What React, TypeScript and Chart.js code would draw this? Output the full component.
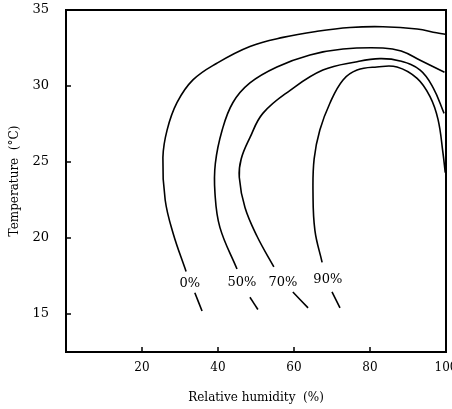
import React, { useEffect, useRef } from "react";
import { Chart, registerables } from "chart.js";

Chart.register(...registerables);

// Relative humidity (%) / temperature (°C) curves
const curve0X = [31.6, 28.2, 26.1, 25.5, 26.6, 29.2, 33.4, 39.7, 48.4, 57.1, 66.1, 74.7, 83.4, 92.4, 97.5, 99.8];
const curve0Y = [17.8, 20.3, 22.5, 25.3, 27.1, 28.9, 30.4, 31.5, 32.6, 33.2, 33.6, 33.85, 33.9, 33.75, 33.5, 33.4];
const curve50X = [45.0, 40.5, 39.2, 39.3, 41.1, 43.9, 48.4, 55.5, 64.2, 72.9, 83.4, 88.2, 93.2, 99.6];
const curve50Y = [17.96, 20.7, 22.96, 24.9, 27.1, 28.9, 30.2, 31.25, 32.04, 32.43, 32.5, 32.3, 31.7, 30.9];
const curve70X = [54.7, 50.3, 47.1, 45.6, 46.1, 48.4, 51.8, 58.9, 67.6, 76.6, 82.6, 87.9, 93.2, 96.6, 99.5];
const curve70Y = [18.1, 20.1, 22.0, 24.0, 25.2, 26.6, 28.2, 29.7, 31.05, 31.6, 31.8, 31.65, 31.05, 29.9, 28.2];
const curve90X = [67.4, 65.5, 65.0, 65.3, 66.8, 69.5, 72.9, 76.6, 81.8, 87.1, 92.4, 95.8, 97.9, 99.2, 99.8];
const curve90Y = [18.4, 20.5, 23.0, 25.2, 27.1, 28.9, 30.4, 31.05, 31.25, 31.25, 30.5, 29.3, 27.8, 25.6, 24.3];

// short leader segments below the labels
const tail0X = [33.9, 35.8];
const tail0Y = [16.4, 15.2];
const tail50X = [48.4, 50.5];
const tail50Y = [16.1, 15.3];
const tail70X = [59.7, 63.7];
const tail70Y = [16.45, 15.4];
const tail90X = [70.0, 72.1];
const tail90Y = [16.45, 15.4];

const curveLabels = ["0%", "50%", "70%", "90%"];
const curveLabelX = [32.6, 46.3, 57.1, 68.9];
const curveLabelY = [17.0, 17.05, 17.05, 17.25];

const xTicks = [20, 40, 60, 80, 100];
const yTicks = [15, 20, 25, 30, 35];

const pts = (xs: number[], ys: number[]) => xs.map((x, i) => ({ x, y: ys[i] }));

const framePlugin = {
  id: "frameAndLabels",
  afterDatasetsDraw(chart: any) {
    const { ctx, chartArea, scales } = chart;
    const xs = scales.x;
    const ys = scales.y;
    ctx.save();
    ctx.strokeStyle = "#000";
    ctx.lineWidth = 2;
    ctx.strokeRect(chartArea.left, chartArea.top, chartArea.right - chartArea.left, chartArea.bottom - chartArea.top);
    ctx.lineWidth = 1.5;
    ctx.beginPath();
    for (const v of yTicks) {
      if (v >= 35) continue;
      const py = ys.getPixelForValue(v);
      ctx.moveTo(chartArea.left, py);
      ctx.lineTo(chartArea.left + 5, py);
    }
    for (const v of xTicks) {
      if (v >= 100) continue;
      const px = xs.getPixelForValue(v);
      ctx.moveTo(px, chartArea.bottom);
      ctx.lineTo(px, chartArea.bottom - 5);
    }
    ctx.stroke();
    ctx.fillStyle = "#000";
    ctx.font = "13px 'DejaVu Serif'";
    ctx.textAlign = "center";
    ctx.textBaseline = "middle";
    curveLabels.forEach((t, i) => {
      ctx.fillText(t, xs.getPixelForValue(curveLabelX[i]), ys.getPixelForValue(curveLabelY[i]));
    });
    ctx.restore();
  },
};

export default function App() {
  const ref = useRef<HTMLCanvasElement | null>(null);
  useEffect(() => {
    document.body.style.margin = "0";
    document.body.style.overflow = "hidden";
    document.documentElement.style.overflow = "hidden";
    const lineDs = (data: any[]) => ({
      data,
      borderColor: "#000",
      borderWidth: 1.6,
      pointRadius: 0,
      tension: 0.4,
      fill: false,
    });
    const chart = new Chart(ref.current as HTMLCanvasElement, {
      type: "line",
      data: {
        datasets: [
          lineDs(pts(curve0X, curve0Y)),
          lineDs(pts(curve50X, curve50Y)),
          lineDs(pts(curve70X, curve70Y)),
          lineDs(pts(curve90X, curve90Y)),
          lineDs(pts(tail0X, tail0Y)),
          lineDs(pts(tail50X, tail50Y)),
          lineDs(pts(tail70X, tail70Y)),
          lineDs(pts(tail90X, tail90Y)),
        ],
      },
      options: {
        animation: false,
        responsive: false,
        layout: { padding: { top: 10, right: 34, left: 0, bottom: 0 } },
        plugins: { legend: { display: false }, tooltip: { enabled: false } },
        scales: {
          x: {
            type: "linear",
            min: 0,
            max: 100,
            grid: { display: false, drawTicks: false },
            border: { display: false },
            afterBuildTicks: (s: any) => {
              s.ticks = xTicks.map((v) => ({ value: v }));
            },
            afterFit: (s: any) => {
              s.height = 57;
              s.paddingLeft = 0;
              s.paddingRight = 0;
            },
            ticks: {
              padding: 9,
              color: "#000",
              maxRotation: 0,
              font: { family: "'DejaVu Serif'", size: 12 },
            },
            title: {
              display: true,
              text: "Relative humidity  (%)",
              color: "#000",
              padding: { top: 0, bottom: 4 },
              font: { family: "'DejaVu Serif'", size: 12 },
            },
          },
          y: {
            type: "linear",
            min: 12.5,
            max: 35,
            grid: { display: false, drawTicks: false },
            border: { display: false },
            afterBuildTicks: (s: any) => {
              s.ticks = yTicks.map((v) => ({ value: v }));
            },
            afterFit: (s: any) => {
              s.width = 66;
              s.paddingTop = 0;
              s.paddingBottom = 0;
            },
            ticks: {
              padding: 17,
              color: "#000",
              font: { family: "'DejaVu Serif'", size: 13 },
            },
            title: {
              display: true,
              text: "Temperature  (°C)",
              color: "#000",
              padding: { top: 8, bottom: 0 },
              font: { family: "'DejaVu Serif'", size: 12 },
            },
          },
        },
      },
      plugins: [framePlugin],
    } as any);
    return () => chart.destroy();
  }, []);
  return <canvas ref={ref} width={480} height={409} style={{ display: "block" }} />;
}
